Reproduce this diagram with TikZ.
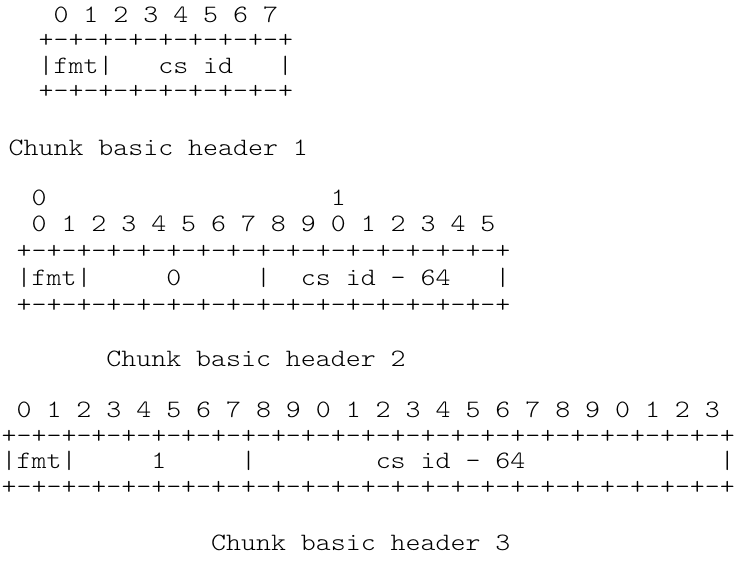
\documentclass[tikz,border=0pt]{standalone}
\newcommand\asciifont{\fontseries{l}\ttfamily\fontsize{25}{25}\selectfont}
\newcommand\wide[1]{\scalebox{1.14}[1]{#1}}
\tikzset{
  asciiline/.style={font=\asciifont,anchor=base west,inner sep=0pt,outer sep=0pt},
}

\begin{document}
\begin{tikzpicture}[x=1pt,y=-1pt]
\path[fill=white] (0,0) rectangle (745,562);

% chunk basic header 1
\node[asciiline] (hOneBits) at (8.7,22)   {\wide{~~~0~1~2~3~4~5~6~7}};
\node[asciiline] (hOneTop)  at (8.7,47.5) {\wide{~~+-+-+-+-+-+-+-+-+}};
\node[asciiline] (hOneRow)  at (8.7,73)   {\wide{~~|fmt|~~~cs~id~~~|}};
\node[asciiline] (hOneBot)  at (8.7,98.5) {\wide{~~+-+-+-+-+-+-+-+-+}};
\node[asciiline] (hOneCap)  at (8.7,155)  {\wide{Chunk~basic~header~1}};

% chunk basic header 2
\node[asciiline] (hTwoTens) at (1.7,205) {\wide{~~0~~~~~~~~~~~~~~~~~~~1}};
\node[asciiline] (hTwoBits) at (1.7,231) {\wide{~~0~1~2~3~4~5~6~7~8~9~0~1~2~3~4~5}};
\node[asciiline] (hTwoTop)  at (1.7,258) {\wide{~+-+-+-+-+-+-+-+-+-+-+-+-+-+-+-+-+}};
\node[asciiline] (hTwoRow)  at (1.7,285) {\wide{~|fmt|~~~~~0~~~~~|~~cs~id~-~64~~~|}};
\node[asciiline] (hTwoBot)  at (1.7,312) {\wide{~+-+-+-+-+-+-+-+-+-+-+-+-+-+-+-+-+}};
\node[asciiline] (hTwoCap)  at (1.7,366) {\wide{~~~~~~~Chunk~basic~header~2}};

% chunk basic header 3
\node[asciiline] (hThreeBits) at (1.7,417) {\wide{~0~1~2~3~4~5~6~7~8~9~0~1~2~3~4~5~6~7~8~9~0~1~2~3}};
\node[asciiline] (hThreeTop)  at (1.7,443) {\wide{+-+-+-+-+-+-+-+-+-+-+-+-+-+-+-+-+-+-+-+-+-+-+-+-+}};
\node[asciiline] (hThreeRow)  at (1.7,468) {\wide{|fmt|~~~~~1~~~~~|~~~~~~~~cs~id~-~64~~~~~~~~~~~~~|}};
\node[asciiline] (hThreeBot)  at (1.7,494) {\wide{+-+-+-+-+-+-+-+-+-+-+-+-+-+-+-+-+-+-+-+-+-+-+-+-+}};
\node[asciiline] (hThreeCap)  at (1.7,550) {\wide{~~~~~~~~~~~~~~Chunk~basic~header~3}};

\end{tikzpicture}
\end{document}
